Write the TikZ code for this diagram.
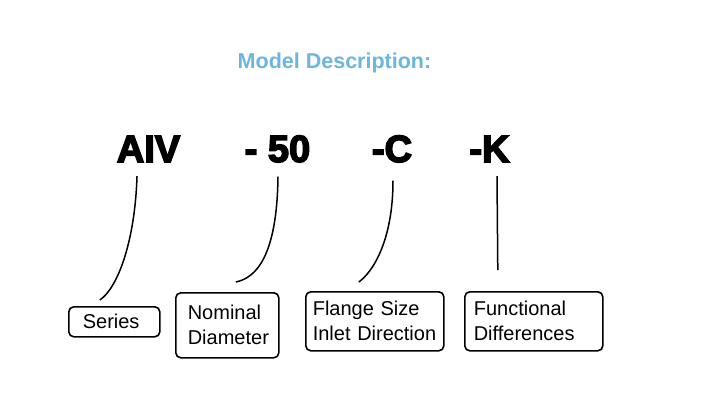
\documentclass[tikz,border=0pt]{standalone}
\usepackage{fontspec}
\setmainfont{Liberation Sans}
\newfontfamily\heavyfont{Liberation Sans}[BoldFeatures={FakeBold=4}]
\usetikzlibrary{calc,positioning}
\definecolor{titleblue}{RGB}{108,182,222}

\begin{document}
\begin{tikzpicture}[x=1pt, y=-1pt,
  heading/.style={font=\fontsize{21.5}{26}\selectfont\bfseries, text=titleblue, anchor=base},
  code/.style={font=\heavyfont\fontsize{38}{40}\selectfont\bfseries, anchor=base, inner sep=14pt},
  tag/.style={draw, rounded corners=5pt, line width=1.6pt, anchor=north west, align=left, inner ysep=0pt, font=\fontsize{20}{25}\selectfont},
  lead/.style={line width=1.5pt}
]
  \useasboundingbox (0,0) rectangle (711,400);
  \node[heading] (title) at (334.5,68) {Model Description:};
  % model code
  \node[code] (aiv)    at (148.5,162) {AIV};
  \node[code] (dn)     at (277.5,162) {- 50};
  \node[code] (flange) at (392,162)   {-C};
  \node[code] (func)   at (489.5,162) {-K};
  % meaning of each part
  \node[tag, inner xsep=14pt, text width=63pt, minimum height=30pt] (series) at (68,306) {Series};
  \node[tag, inner xsep=12pt, text width=79pt, minimum height=65pt] (nominal) at (175,292) {Nominal\\Diameter};
  \node[tag, inner xsep=7pt, text width=124pt, minimum height=59pt] (size) at (305,291) {Flange Size\\Inlet Direction};
  \node[tag, inner xsep=9pt, text width=120pt, minimum height=59pt] (diff) at (464,291) {Functional\\Differences};
  % leader lines
  \draw[lead] ([xshift=-11.5pt]aiv.south) .. controls +(-2,65) and +(18,-12) .. ([xshift=-14.5pt,yshift=6pt]series.north);
  \draw[lead] ([xshift=0.5pt]dn.south) .. controls +(-1,80) and +(20,-4) .. ([xshift=8.5pt,yshift=10pt]nominal.north);
  \draw[lead] ([xshift=1pt,yshift=-4pt]flange.south) .. controls +(0,60) and +(14,-10) .. ([xshift=-16pt,yshift=9pt]size.north);
  \draw[lead] ([xshift=7.5pt]func.south) -- ([xshift=-36pt,yshift=21pt]diff.north);
\end{tikzpicture}
\end{document}
